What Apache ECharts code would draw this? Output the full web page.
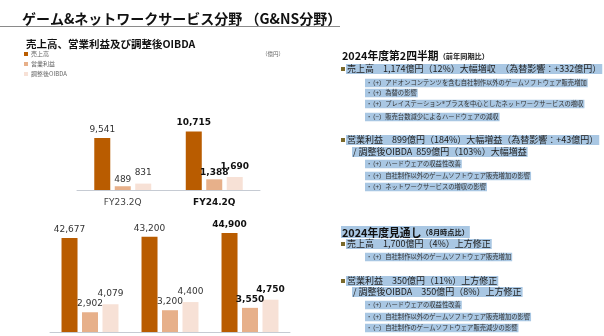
<!DOCTYPE html>
<html><head><meta charset="utf-8">
<script src="https://cdn.jsdelivr.net/npm/echarts@6/dist/echarts.min.js"></script>
<style>html,body{margin:0;padding:0;background:#fff}#c{width:604px;height:336px}</style>
</head><body><div id="c"></div>
<script>
// ---- data ----
const seriesNames = ['売上高', '営業利益', '調整後OIBDA'];
const quarterCategories = ['FY23.2Q', 'FY24.2Q'];
const quarterRevenue = [9541, 10715];
const quarterOpIncome = [489, 1388];
const quarterOibda = [831, 1690];
const yearCategories = ['FY23', 'FY24 8月見通し', 'FY24 今回見通し'];
const yearRevenue = [42677, 43200, 44900];
const yearOpIncome = [2902, 3200, 3550];
const yearOibda = [4079, 4400, 4750];

const colors = ['#b95c00', '#e7b08a', '#f7e1d6'];
const JP = '"Noto Sans CJK JP", "Noto Sans", sans-serif';
const NUM = '"DejaVu Sans", Verdana, sans-serif';

function items(vals, boldIdx) {
  return vals.map((v, i) => ({
    value: v,
    label: { fontWeight: i === boldIdx ? 'bold' : 'normal', color: i === boldIdx ? '#111' : '#333' }
  }));
}
function bar(name, vals, color, gi, yi, boldIdx, dist) {
  return {
    type: 'bar', name: name, xAxisIndex: gi, yAxisIndex: yi,
    data: items(vals, boldIdx), barWidth: 16, barGap: '28%',
    itemStyle: { color: color },
    label: { show: true, position: 'top', distance: dist, fontFamily: NUM, fontSize: 9,
      formatter: p => p.value.toLocaleString('en-US') },
    emphasis: { disabled: true }, animation: false
  };
}

const tx = (text, x, y, size, opts) => Object.assign({
  type: 'text', x: x, y: y,
  style: Object.assign({ text: text, fontFamily: JP, fontSize: size, fill: '#222', verticalAlign: 'middle' }, opts || {})
});
const HL = '#a9c7e3';
function mainLine(text, x, y) {
  return tx(text, x, y, 9, { backgroundColor: HL, padding: [1, 1, 0, 1] });
}
function subLine(text, x, y) {
  return tx(text, x, y, 6.3, { backgroundColor: HL, padding: [1.5, 1, 0.5, 1], fill: '#333' });
}
function bullet(x, y) {
  return { type: 'rect', shape: { x: x, y: y - 2, width: 4, height: 4 }, style: { fill: '#7b6a2c' } };
}

const graphics = [
  tx('ゲーム&ネットワークサービス分野 （G&NS分野）', 22, 18.5, 14, { fontWeight: 'bold', fill: '#111' }),
  { type: 'line', shape: { x1: 0, y1: 26.5, x2: 340, y2: 26.5 }, style: { stroke: '#8a8a8a', lineWidth: 1 } },
  tx('売上高、営業利益及び調整後OIBDA', 26, 44, 10.5, { fontWeight: 'bold', fill: '#111' }),
  tx('（億円）', 262, 54, 5.5, { fill: '#666' }),
  // right panel
  { type: 'text', x: 342, y: 56, style: { text: '{a|2024年度第2四半期}{b|（前年同期比）}', verticalAlign: 'middle',
      rich: { a: { fontFamily: JP, fontSize: 10.8, fontWeight: 'bold', fill: '#111' },
              b: { fontFamily: JP, fontSize: 7.2, fontWeight: 'bold', fill: '#111' } } } },
  bullet(341, 69),
  mainLine('売上高　1,174億円（12%）大幅増収　（為替影響：+332億円）', 346, 69),
  subLine('・（+）アドオンコンテンツを含む自社制作以外のゲームソフトウェア販売増加', 365, 83),
  subLine('・（+）為替の影響', 365, 93),
  subLine('・（+）プレイステーション®プラスを中心としたネットワークサービスの増収', 365, 104),
  subLine('・（−）販売台数減少によるハードウェアの減収', 365, 117),
  bullet(341, 140),
  mainLine('営業利益　899億円（184%）大幅増益（為替影響：+43億円）', 346, 140),
  mainLine('/ 調整後OIBDA  859億円（103%）大幅増益', 352, 152),
  subLine('・（+）ハードウェアの収益性改善', 365, 164),
  subLine('・（+）自社制作以外のゲームソフトウェア販売増加の影響', 365, 176),
  subLine('・（+）ネットワークサービスの増収の影響', 365, 187),
  { type: 'text', x: 341, y: 232, style: { text: '{a|2024年度見通し}{b|（8月時点比）}', verticalAlign: 'middle',
      backgroundColor: HL, padding: [1, 1, 0, 1],
      rich: { a: { fontFamily: JP, fontSize: 10.8, fontWeight: 'bold', fill: '#111' },
              b: { fontFamily: JP, fontSize: 7.2, fontWeight: 'bold', fill: '#111' } } } },
  bullet(341, 244),
  mainLine('売上高　1,700億円（4%）上方修正', 346, 244),
  subLine('・（+）自社制作以外のゲームソフトウェア販売増加', 365, 257),
  bullet(341, 281),
  mainLine('営業利益　350億円（11%）上方修正', 346, 281),
  mainLine('/ 調整後OIBDA　350億円（8%）上方修正', 352, 292),
  subLine('・（+）ハードウェアの収益性改善', 365, 305),
  subLine('・（+）自社制作以外のゲームソフトウェア販売増加の影響', 365, 317),
  subLine('・（−）自社制作のゲームソフトウェア販売減少の影響', 365, 328)
];

const axisLine = { show: true, lineStyle: { color: '#c6cbd3', width: 1 } };
const hiddenY = (gi, max) => ({ type: 'value', gridIndex: gi, min: 0, max: max, show: false, splitLine: { show: false } });

const option = {
  animation: false,
  grid: [
    { left: 77, top: 100, width: 183, height: 90 },
    { left: 50, top: 232, width: 240, height: 100 }
  ],
  legend: {
    orient: 'vertical', left: 24, top: 50, padding: 0, itemGap: 2,
    itemWidth: 4, itemHeight: 4, icon: 'rect', selectedMode: false,
    data: seriesNames,
    textStyle: { fontFamily: JP, fontSize: 6, color: '#666', lineHeight: 8, padding: [0, 0, 0, -2] }
  },
  xAxis: [
    { type: 'category', gridIndex: 0, data: quarterCategories, axisLine: axisLine, axisTick: { show: false },
      axisLabel: { fontFamily: NUM, fontSize: 9, color: '#444', margin: 8,
        formatter: (v, i) => i === 1 ? '{b|' + v + '}' : v,
        rich: { b: { fontFamily: NUM, fontSize: 9, fontWeight: 'bold', color: '#111' } } } },
    { type: 'category', gridIndex: 1, data: yearCategories, axisLine: axisLine, axisTick: { show: false },
      axisLabel: { show: false } }
  ],
  yAxis: [hiddenY(0, 16500), hiddenY(0, 11700), hiddenY(1, 45400), hiddenY(1, 14700)],
  series: [
    bar(seriesNames[0], quarterRevenue, colors[0], 0, 0, 1, 4),
    bar(seriesNames[1], quarterOpIncome, colors[1], 0, 1, 1, 2),
    bar(seriesNames[2], quarterOibda, colors[2], 0, 1, 1, 6),
    bar(seriesNames[0], yearRevenue, colors[0], 1, 2, 2, 4),
    bar(seriesNames[1], yearOpIncome, colors[1], 1, 3, 2, 4),
    bar(seriesNames[2], yearOibda, colors[2], 1, 3, 2, 6)
  ],
  graphic: graphics
};
const chart = echarts.init(document.getElementById('c'), null, { renderer: 'canvas' });
chart.setOption(option);
</script>
</body></html>
